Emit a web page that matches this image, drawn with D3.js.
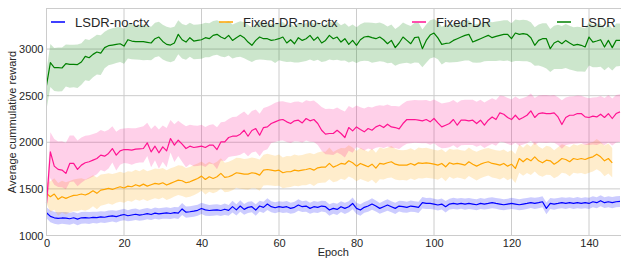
<!DOCTYPE html>
<html>
<head>
<meta charset="utf-8">
<script src="https://cdn.jsdelivr.net/npm/d3@7"></script>
<style>
  body { margin: 0; background: #fff; }
  text { font-family: "Liberation Sans", Arial, sans-serif; fill: #262626; }
</style>
</head>
<body>
<div id="chartContainer"></div>
<script>
// series labels (legend order)
const labels = ["LSDR-no-ctx", "Fixed-DR-no-ctx", "Fixed-DR", "LSDR"];
const colors = ["#0000ff", "#ffa500", "#ff1493", "#008000"];

const xTicks = [0, 20, 40, 60, 80, 100, 120, 140];
const yTicks = [1000, 1500, 2000, 2500, 3000];

// mean reward per epoch
const lsdrNoCtx = [
  1244,1205,1190,1184,1188,1186,1180,1190,1175,1190,
  1192,1188,1195,1192,1200,1196,1205,1210,1202,1215,
  1225,1212,1220,1228,1218,1225,1235,1225,1240,1232,
  1238,1242,1236,1245,1240,1285,1250,1255,1262,1270,
  1290,1275,1268,1272,1275,1268,1282,1270,1310,1275,
  1316,1280,1302,1309,1273,1316,1302,1337,1309,1298,
  1309,1302,1309,1291,1302,1327,1309,1316,1291,1309,
  1302,1316,1309,1273,1291,1280,1309,1291,1309,1344,
  1291,1273,1302,1316,1337,1316,1291,1309,1327,1309,
  1291,1316,1309,1302,1316,1309,1302,1352,1344,1344,
  1337,1327,1337,1309,1337,1344,1337,1344,1337,1344,
  1337,1330,1344,1337,1344,1352,1344,1337,1330,1337,
  1344,1337,1330,1337,1344,1352,1344,1352,1362,1291,
  1344,1337,1344,1352,1344,1352,1344,1352,1344,1352,
  1344,1362,1352,1373,1352,1362,1352,1362,1366];
const lsdrNoCtxStd = [
  60,62,64,65,63,66,64,62,65,63,
  62,64,61,63,60,62,64,61,63,60,
  62,60,63,61,59,62,60,58,61,60,
  59,61,58,60,62,64,60,58,61,59,
  60,62,58,61,59,60,62,58,64,60,
  62,58,60,59,61,58,60,63,59,60,
  58,60,61,59,60,62,58,60,59,61,
  60,58,60,62,59,61,58,60,59,63,
  60,61,58,60,62,59,58,60,61,59,
  60,58,61,59,60,58,60,62,59,60,
  58,60,59,61,58,60,59,58,60,59,
  58,60,59,58,60,59,58,60,59,58,
  60,59,58,60,59,58,60,59,58,62,
  59,60,58,59,60,58,59,60,58,59,
  60,58,59,60,58,59,60,58,59];

const fixedNoCtx = [
  1452,1416,1445,1388,1416,1398,1416,1430,1434,1445,
  1434,1452,1480,1452,1487,1494,1505,1494,1510,1523,
  1510,1530,1523,1545,1530,1551,1530,1545,1559,1551,
  1566,1541,1559,1576,1594,1587,1566,1576,1594,1612,
  1637,1601,1630,1612,1630,1666,1623,1630,1648,1673,
  1666,1658,1658,1673,1666,1648,1701,1708,1701,1694,
  1701,1673,1684,1684,1701,1694,1701,1708,1719,1701,
  1726,1733,1733,1773,1733,1751,1773,1765,1801,1780,
  1744,1773,1755,1737,1765,1723,1773,1765,1780,1791,
  1765,1755,1755,1755,1773,1755,1780,1773,1780,1773,
  1765,1755,1773,1737,1780,1765,1773,1765,1755,1791,
  1765,1744,1765,1780,1791,1773,1765,1755,1773,1744,
  1765,1719,1826,1791,1826,1801,1844,1801,1780,1808,
  1801,1765,1791,1826,1815,1791,1826,1815,1826,1815,
  1833,1844,1872,1844,1801,1826,1780];
const fixedNoCtxStd = [
  110,165,170,175,170,172,168,170,175,170,
  168,170,165,170,168,165,162,165,160,162,
  160,158,162,160,158,162,160,158,160,162,
  158,160,162,158,160,162,158,160,162,160,
  158,162,160,158,160,162,158,160,162,160,
  165,162,168,165,162,168,165,170,165,162,
  168,165,170,165,168,165,162,168,165,170,
  165,168,165,170,162,168,165,170,168,165,
  162,168,165,162,168,165,170,165,162,168,
  165,162,160,165,162,160,165,162,160,158,
  155,158,152,155,150,155,152,150,155,152,
  150,155,152,150,148,152,150,155,150,152,
  150,155,152,150,155,152,158,155,150,155,
  152,150,155,152,150,155,152,150,155,158,
  160,158,162,160,165,160,158];

const fixedDR = [
  1345,1898,1744,1709,1702,1666,1773,1773,1709,1755,
  1780,1791,1808,1826,1862,1851,1880,1933,1862,1908,
  1922,1922,1915,1926,1930,1933,1994,1897,1958,1887,
  1951,1908,2040,1969,2022,1980,1933,1958,1944,1951,
  1958,1944,1969,1969,1922,2004,2004,2051,2065,2065,
  2087,2129,2065,2126,2147,2076,2158,2165,2201,2219,
  2237,2244,2219,2201,2230,2237,2208,2255,2230,2244,
  2201,2129,2087,2094,2094,2129,2094,2051,2158,2122,
  2165,2137,2112,2147,2129,2165,2183,2158,2194,2165,
  2158,2144,2201,2244,2244,2244,2237,2230,2244,2219,
  2255,2208,2165,2183,2201,2244,2183,2237,2237,2230,
  2237,2201,2237,2183,2237,2272,2244,2316,2301,2266,
  2244,2290,2244,2266,2290,2337,2266,2308,2316,2308,
  2308,2316,2272,2190,2266,2290,2290,2308,2308,2272,
  2266,2280,2272,2301,2266,2308,2255,2308,2326];
const fixedDRUp = [
  60,210,290,300,310,330,300,300,310,295,
  290,285,280,275,270,265,255,240,250,235,
  225,230,235,225,230,240,215,245,225,250,
  230,245,200,225,210,220,240,230,235,225,
  230,220,215,225,240,210,215,200,205,210,
  215,200,225,210,205,230,210,215,200,205,
  200,195,210,220,205,200,215,195,210,205,
  215,250,270,265,260,245,255,280,230,245,
  230,240,250,235,245,225,215,235,210,225,
  230,240,215,200,205,210,215,220,210,220,
  205,230,250,240,230,210,240,215,220,225,
  220,235,220,245,215,200,210,185,195,210,
  215,200,220,210,200,185,210,195,190,200,
  195,190,210,260,215,200,205,195,190,210,
  205,200,210,195,210,200,215,200,190];
const fixedDRDown = [
  60,280,200,190,185,170,200,195,180,190,
  185,180,175,170,160,165,160,150,165,150,
  145,150,155,150,148,150,140,165,150,170,
  160,175,150,180,170,190,200,195,200,205,
  205,210,200,205,210,200,205,210,215,210,
  220,240,215,235,245,225,250,240,210,215,
  220,225,215,210,220,230,210,235,225,240,
  230,220,215,225,230,240,225,215,250,235,
  215,205,200,215,210,225,235,220,240,225,
  220,215,240,260,255,250,245,240,255,245,
  265,250,230,245,255,275,245,270,265,260,
  265,250,270,245,275,290,280,310,300,285,
  275,295,280,290,300,320,295,310,320,315,
  310,320,300,260,295,310,305,320,315,300,
  295,305,300,315,295,310,290,310,320];

const lsdr = [
  2611,2854,2801,2801,2797,2843,2836,2836,2833,2861,
  2922,2907,2943,2968,2957,3015,3036,3043,3050,3057,
  3032,3100,3086,3079,3079,3079,3072,3065,3111,3129,
  3082,3050,3043,3065,3158,3100,3075,3122,3086,3093,
  3100,3122,3111,3147,3158,3129,3111,3147,3093,3122,
  3147,3122,3075,3040,3093,3129,3111,3111,3093,3100,
  3111,3129,3065,3100,3057,3122,3093,3111,3147,3093,
  3129,3065,3093,3147,3111,3129,3075,3111,3050,3093,
  3040,3100,3129,3136,3122,3111,3129,3100,3057,3093,
  3015,3065,3129,3093,3057,3122,3129,3004,3093,3150,
  3172,3120,3050,3060,3065,3093,3111,3129,3147,3158,
  3075,3093,3111,3129,3147,3122,3136,3147,3158,3158,
  3111,3172,3158,3165,3158,3122,3040,3093,3111,3111,
  3004,3065,3086,3057,3093,3065,3040,3050,3040,3022,
  3129,3075,3086,3100,3022,3093,3015,3093,3093];
const lsdrUp = [
  160,200,210,215,220,205,210,210,215,200,
  185,190,180,185,190,170,175,180,185,180,
  185,170,180,175,180,185,180,175,170,165,
  180,190,185,175,150,170,180,160,175,170,
  170,160,165,155,150,160,170,155,170,160,
  150,165,185,195,175,160,170,165,175,170,
  165,160,190,170,185,160,175,165,150,175,
  160,185,170,150,165,160,180,165,190,170,
  195,165,155,150,160,165,155,170,185,170,
  200,180,155,170,190,160,155,205,170,160,
  150,175,190,200,190,175,165,160,150,150,
  185,175,165,160,150,165,160,155,150,150,
  165,145,150,150,150,165,195,170,165,165,
  210,185,175,190,175,185,195,190,195,200,
  160,185,180,170,200,175,205,180,180];
const lsdrDown = [
  260,260,250,255,250,245,250,245,250,245,
  257,250,245,240,235,220,210,205,200,195,
  190,200,195,190,195,200,190,185,200,205,
  195,180,185,190,215,200,190,205,195,200,
  205,210,200,215,220,210,200,215,195,210,
  230,220,195,180,210,240,225,230,215,250,
  230,260,205,235,200,265,230,240,260,220,
  245,205,225,260,230,245,200,235,195,225,
  190,230,255,265,270,250,260,235,210,240,
  195,225,280,240,215,265,275,200,240,250,
  260,230,215,200,210,235,250,260,270,280,
  220,240,255,260,275,250,265,270,285,280,
  250,300,285,295,290,265,220,270,300,320,
  250,280,300,270,295,285,270,290,280,265,
  305,270,280,290,250,285,245,280,275];

// chart properties
let BOX_WIDTH = 621;
let BOX_HEIGHT = 259;
let PLOT_LEFT = 46.5;
let PLOT_RIGHT = 620;
let PLOT_TOP = 8.5;
let PLOT_BOTTOM = 235.5;
let GRID_COLOR = "#cccccc";

// band = mean +/- offsets (same offset both ways for the no-ctx runs)
const series = [
  { name: labels[0], color: colors[0], mean: lsdrNoCtx, up: lsdrNoCtxStd, down: lsdrNoCtxStd },
  { name: labels[1], color: colors[1], mean: fixedNoCtx, up: fixedNoCtxStd, down: fixedNoCtxStd },
  { name: labels[2], color: colors[2], mean: fixedDR, up: fixedDRUp, down: fixedDRDown },
  { name: labels[3], color: colors[3], mean: lsdr, up: lsdrUp, down: lsdrDown }
];

const svg = d3.select("#chartContainer")
    .append("svg")
    .attr("width", BOX_WIDTH)
    .attr("height", BOX_HEIGHT);

const xScale = d3.scaleLinear()
    .domain([0, 148])
    .range([PLOT_LEFT, PLOT_RIGHT]);

const yScale = d3.scaleLinear()
    .domain([1000, 3435])
    .range([PLOT_BOTTOM, PLOT_TOP]);

// grid lines
svg.append("g")
    .selectAll("line")
    .data(xTicks)
    .join("line")
    .attr("x1", d => xScale(d))
    .attr("x2", d => xScale(d))
    .attr("y1", PLOT_TOP)
    .attr("y2", PLOT_BOTTOM)
    .attr("stroke", GRID_COLOR)
    .attr("stroke-width", 1);

svg.append("g")
    .selectAll("line")
    .data(yTicks)
    .join("line")
    .attr("x1", PLOT_LEFT)
    .attr("x2", PLOT_RIGHT)
    .attr("y1", d => yScale(d))
    .attr("y2", d => yScale(d))
    .attr("stroke", GRID_COLOR)
    .attr("stroke-width", 1);

// bands and lines
const band = d3.area()
    .x((d, i) => xScale(i))
    .y0(d => yScale(d.lo))
    .y1(d => yScale(d.hi));

const line = d3.line()
    .x((d, i) => xScale(i))
    .y(d => yScale(d));

series.forEach(s => {
    const bandData = s.mean.map((m, i) => ({ lo: m - s.down[i], hi: m + s.up[i] }));
    svg.append("path")
        .datum(s.mean)
        .attr("fill", "none")
        .attr("stroke", s.color)
        .attr("stroke-width", 1.2)
        .attr("stroke-linejoin", "round")
        .attr("d", line);
    svg.append("path")
        .datum(bandData)
        .attr("fill", s.color)
        .attr("fill-opacity", 0.2)
        .attr("d", band);
});

// frame
svg.append("rect")
    .attr("x", PLOT_LEFT)
    .attr("y", PLOT_TOP)
    .attr("width", PLOT_RIGHT - PLOT_LEFT + 5)
    .attr("height", PLOT_BOTTOM - PLOT_TOP)
    .attr("fill", "none")
    .attr("stroke", GRID_COLOR)
    .attr("stroke-width", 1);

// axes (tick labels only, seaborn whitegrid look)
const xAxis = d3.axisBottom(xScale).tickValues(xTicks).tickSize(0).tickPadding(4);
const yAxis = d3.axisLeft(yScale).tickValues(yTicks).tickFormat(d3.format("d"))
    .tickSize(0).tickPadding(3);

const gx = svg.append("g")
    .attr("transform", `translate(0, ${PLOT_BOTTOM})`)
    .call(xAxis);
const gy = svg.append("g")
    .attr("transform", `translate(${PLOT_LEFT}, 0)`)
    .call(yAxis);

[gx, gy].forEach(g => {
    g.select(".domain").remove();
    g.selectAll("text")
        .attr("font-size", 11)
        .attr("font-family", "Liberation Sans, Arial, sans-serif")
        .attr("fill", "#262626");
});

svg.append("text")
    .attr("x", (PLOT_LEFT + PLOT_RIGHT) / 2)
    .attr("y", 256)
    .attr("text-anchor", "middle")
    .attr("font-size", 11)
    .text("Epoch");

svg.append("text")
    .attr("transform", `translate(16, ${(PLOT_TOP + PLOT_BOTTOM) / 2}) rotate(-90)`)
    .attr("text-anchor", "middle")
    .attr("font-size", 11)
    .text("Average cummulative reward");

// legend across the top
const legendX = [51, 219, 412, 557];
const legend = svg.append("g")
    .selectAll("g")
    .data(series)
    .join("g")
    .attr("transform", (d, i) => `translate(${legendX[i]}, 22)`);

legend.append("line")
    .attr("x1", 0)
    .attr("x2", 14)
    .attr("stroke", d => d.color)
    .attr("stroke-width", 1.5);

legend.append("text")
    .attr("x", 24)
    .attr("dy", "0.35em")
    .attr("font-size", 13)
    .text(d => d.name);
</script>
</body>
</html>
